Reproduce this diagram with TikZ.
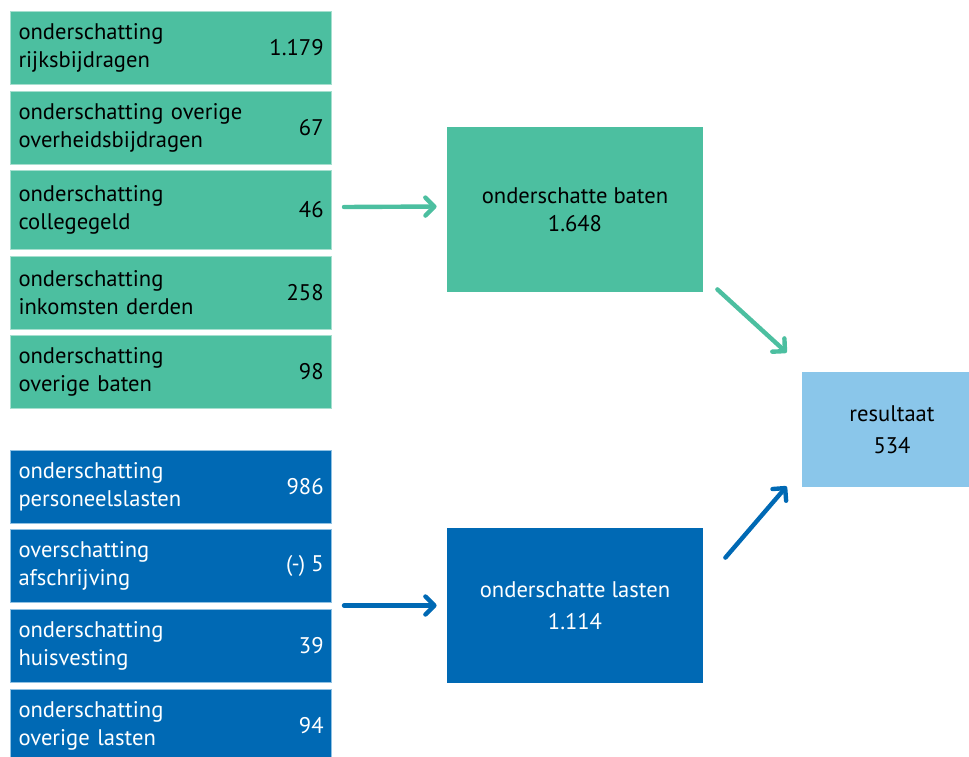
\documentclass[tikz,border=0pt]{standalone}
\usepackage{fontspec}
\setmainfont{PT Sans}
\usetikzlibrary{arrows.meta}
\definecolor{batengreen}{HTML}{4CBFA0}
\definecolor{batenline}{HTML}{A6DFCF}
\definecolor{lastenblue}{HTML}{0069B4}
\definecolor{lastenline}{HTML}{8FC1E3}
\definecolor{resultblue}{HTML}{8AC6EA}

\begin{document}
\begin{tikzpicture}[x=0.5pt, y=-0.5pt, font=\fontsize{11.3}{14}\selectfont,
  item/.style={anchor=north west, minimum width=160.5pt, minimum height=36.5pt,
    text width=152.5pt, inner xsep=4pt, inner ysep=0pt, align=left, line width=0.5pt},
  baten item/.style={item, fill=batengreen, draw=batenline, text=black},
  lasten item/.style={item, fill=lastenblue, draw=lastenline, text=white},
  value/.style={anchor=east, inner sep=0pt},
  total/.style={minimum width=128pt, align=center, inner sep=0pt},
  flow/.style={line width=2.2pt, line cap=round, -{Straight Barb[round, length=4.5pt, width=9pt]}}]
  \useasboundingbox (0,0) rectangle (969,756);
  % baten
  \node[baten item] (rijks) at (10,11) {onderschatting\\rijksbijdragen};
  \node[value] (rijksval) at ([xshift=-4pt]rijks.east) {1.179};
  \node[baten item] (overheid) at (10,91) {onderschatting overige\\overheidsbijdragen};
  \node[value] (overheidval) at ([xshift=-4pt]overheid.east) {67};
  \node[baten item, minimum height=39.5pt] (college) at (10,170) {onderschatting\\collegegeld};
  \node[value] (collegeval) at ([xshift=-4pt]college.east) {46};
  \node[baten item] (derden) at (10,256) {onderschatting\\inkomsten derden};
  \node[value] (derdenval) at ([xshift=-4pt]derden.east) {258};
  \node[baten item] (ovbaten) at (10,335) {onderschatting\\overige baten};
  \node[value] (ovbatenval) at ([xshift=-4pt]ovbaten.east) {98};
  % lasten
  \node[lasten item] (personeel) at (10,450) {onderschatting\\personeelslasten};
  \node[value, white] (personeelval) at ([xshift=-4pt]personeel.east) {986};
  \node[lasten item] (afschr) at (10,529) {overschatting\\afschrijving};
  \node[value, white] (afschrval) at ([xshift=-4pt]afschr.east) {(-) 5};
  \node[lasten item] (huisv) at (10,609) {onderschatting\\huisvesting};
  \node[value, white] (huisvval) at ([xshift=-4pt]huisv.east) {39};
  \node[lasten item] (ovlasten) at (10,689) {onderschatting\\overige lasten};
  \node[value, white] (ovlastenval) at ([xshift=-4pt]ovlasten.east) {94};
  % totals
  \node[total, fill=batengreen, minimum height=82.5pt] (baten) at (575,209.5) {onderschatte baten\\1.648};
  \node[total, fill=lastenblue, text=white, minimum height=77.5pt] (lasten) at (575,605.5) {onderschatte lasten\\[2pt]1.114};
  \node[fill=resultblue, minimum width=90pt, minimum height=57.5pt, inner sep=0pt, align=center] (result) at (892,429.5) {resultaat\\[2pt]534};
  % arrows
  \draw[flow, batengreen] ([shift={(12,-3)}]college.east) -- ([shift={(-10,-3)}]baten.west);
  \draw[flow, lastenblue] ([xshift=6pt]lasten.west -| afschr.east) -- ([xshift=-5pt]lasten.west);
  \draw[flow, batengreen] ([shift={(14,-3)}]baten.south east) -- ([shift={(-15,-19)}]result.north west);
  \draw[flow, lastenblue] ([shift={(22,30)}]lasten.north east) -- ([shift={(-15,-1)}]result.south west);
\end{tikzpicture}
\end{document}
